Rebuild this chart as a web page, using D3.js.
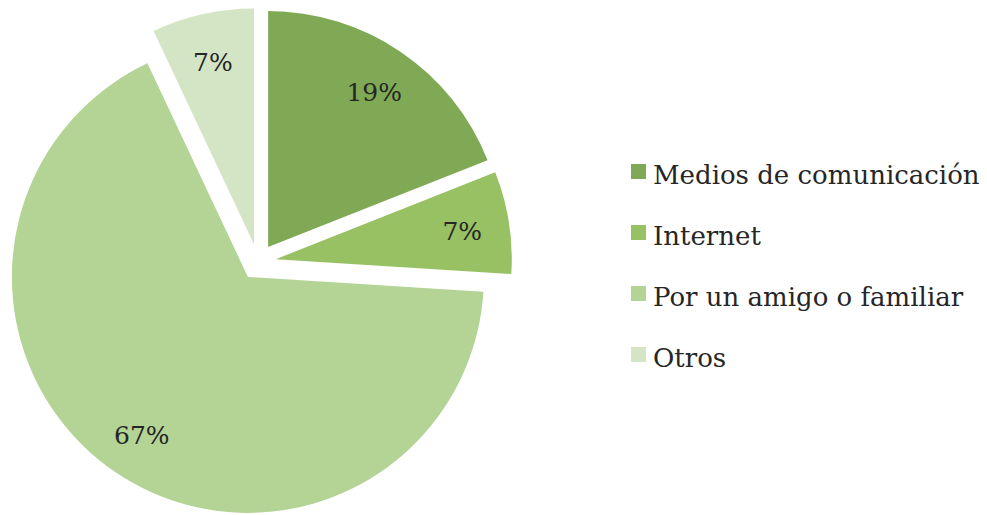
<!DOCTYPE html>
<html>
<head>
<meta charset="utf-8">
<script src="https://cdn.jsdelivr.net/npm/d3@7"></script>
<style>
  body { margin: 0; background: #fff; }
  text { font-family: "DejaVu Serif", serif; fill: #262626; }
</style>
</head>
<body>
<div id="chart"></div>
<script>
const categories = ["Medios de comunicación", "Internet", "Por un amigo o familiar", "Otros"];
const values = [19, 7, 67, 7];
const colors = ["#80a955", "#97c163", "#b3d495", "#d3e5c4"];

const width = 987, height = 515;
const cx = 258, cy = 262, radius = 236, explode = 18;

const svg = d3.select("#chart")
  .append("svg")
  .attr("width", width)
  .attr("height", height);

const pie = d3.pie().sort(null).value(d => d.value);
const arc = d3.arc().innerRadius(0).outerRadius(radius);
const labelArc = d3.arc().innerRadius(radius * 0.8).outerRadius(radius * 0.8);

const data = categories.map((c, i) => ({ name: c, value: values[i], color: colors[i] }));
const arcs = pie(data);

const g = svg.append("g").attr("transform", `translate(${cx},${cy})`);

const slice = g.selectAll(".slice")
  .data(arcs)
  .join("g")
  .attr("class", "slice")
  .attr("transform", d => {
    const a = (d.startAngle + d.endAngle) / 2;
    return `translate(${Math.sin(a) * explode},${-Math.cos(a) * explode})`;
  });

slice.append("path")
  .attr("d", arc)
  .attr("fill", d => d.data.color);

slice.append("text")
  .attr("transform", d => `translate(${labelArc.centroid(d)})`)
  .attr("text-anchor", "middle")
  .attr("dy", "0.42em")
  .style("font-size", "25px")
  .text(d => d.data.value + "%");

const legend = svg.selectAll(".legend")
  .data(data)
  .join("g")
  .attr("class", "legend")
  .attr("transform", (d, i) => `translate(631, ${164 + i * 61})`);

legend.append("rect")
  .attr("width", 15)
  .attr("height", 15)
  .attr("fill", d => d.color);

legend.append("text")
  .attr("x", 22)
  .attr("y", 20)
  .style("font-size", "26px")
  .text(d => d.name);
</script>
</body>
</html>
